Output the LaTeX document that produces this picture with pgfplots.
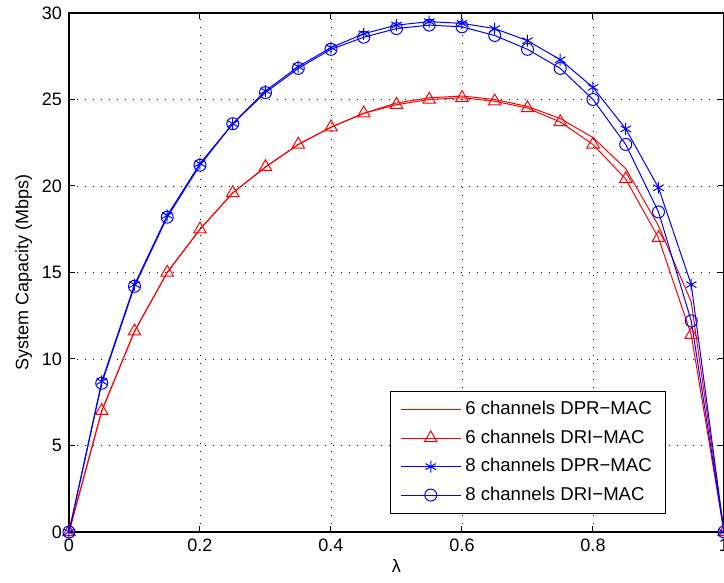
\documentclass[border=0pt]{standalone}
\usepackage{fontspec}
\setmainfont{Liberation Sans}
\usepackage{pgfplots}
\pgfplotsset{compat=1.18}

\begin{document}
\begin{tikzpicture}[x=1pt,y=1pt]
\begin{axis}[
    name=ax,
    at={(0,0)}, anchor=south west,
    width=327.5pt, height=259.5pt,
    scale only axis,
    xmin=0, xmax=1, ymin=0, ymax=30,
    xtick={0,0.2,...,1}, ytick={0,5,...,30},
    xticklabels={0,0.2,0.4,0.6,0.8,1},
    grid=major,
    major grid style={black, line width=0.4pt, dash pattern=on 0.5pt off 3.5pt},
    tick align=inside,
    major tick length=3pt,
    axis line style={line width=0.8pt},
    tick style={black, line width=0.5pt},
    font=\fontsize{9}{11}\selectfont,
    tick label style={font=\fontsize{9}{11}\selectfont},
    /pgf/number format/assume math mode=true,
    xlabel={λ},
    ylabel={System Capacity (Mbps)},
    xlabel style={yshift=3pt},
    ylabel style={yshift=-2pt},
    legend style={at={(0.912,0.035)}, anchor=south east, draw=black,
        line width=0.5pt, font=\fontsize{9.3}{11}\selectfont,
        row sep=2pt, inner xsep=5pt, inner ysep=3pt, cells={anchor=west}},
    legend image code/.code={\draw[mark repeat=2,mark phase=2]
        plot coordinates {(0pt,0pt) (15pt,0pt) (30pt,0pt)};},
]
\addplot[red, line width=0.5pt] coordinates {
(0,0) (0.05,7.0) (0.1,11.6) (0.15,15.0) (0.2,17.5) (0.25,19.6) (0.3,21.1)
(0.35,22.4) (0.4,23.4) (0.45,24.2) (0.5,24.8) (0.55,25.1) (0.6,25.2)
(0.65,25.0) (0.7,24.6) (0.75,23.9) (0.8,22.8) (0.85,21.0) (0.9,17.7)
(0.95,13.3) (1,0)};
\addlegendentry{6 channels DPR−MAC}
\addplot[red, line width=0.5pt, mark=triangle, mark size=3.6pt,
    mark options={solid, line width=0.5pt}] coordinates {
(0,0) (0.05,7.0) (0.1,11.6) (0.15,15.0) (0.2,17.5) (0.25,19.6) (0.3,21.1)
(0.35,22.4) (0.4,23.4) (0.45,24.2) (0.5,24.7) (0.55,25.0) (0.6,25.1)
(0.65,24.9) (0.7,24.5) (0.75,23.7) (0.8,22.4) (0.85,20.4) (0.9,17.0)
(0.95,11.4) (1,0)};
\addlegendentry{6 channels DRI−MAC}
\addplot[blue, line width=0.5pt, mark=asterisk, mark size=3pt,
    mark options={solid, line width=0.5pt}] coordinates {
(0,0) (0.05,8.7) (0.1,14.3) (0.15,18.3) (0.2,21.3) (0.25,23.6) (0.3,25.5)
(0.35,26.9) (0.4,28.0) (0.45,28.8) (0.5,29.3) (0.55,29.5) (0.6,29.4)
(0.65,29.1) (0.7,28.4) (0.75,27.3) (0.8,25.7) (0.85,23.3) (0.9,19.9)
(0.95,14.3) (1,0)};
\addlegendentry{8 channels DPR−MAC}
\addplot[blue, line width=0.5pt, mark=o, mark size=3pt,
    mark options={solid, line width=0.5pt}] coordinates {
(0,0) (0.05,8.6) (0.1,14.2) (0.15,18.2) (0.2,21.2) (0.25,23.6) (0.3,25.4)
(0.35,26.8) (0.4,27.9) (0.45,28.6) (0.5,29.1) (0.55,29.3) (0.6,29.2)
(0.65,28.7) (0.7,27.9) (0.75,26.8) (0.8,25.0) (0.85,22.4) (0.9,18.5)
(0.95,12.2) (1,0)};
\addlegendentry{8 channels DRI−MAC}
\end{axis}
\pgfresetboundingbox
\useasboundingbox (-34.5pt,-25.5pt) rectangle (327.5pt,266pt);
\end{tikzpicture}
\end{document}
